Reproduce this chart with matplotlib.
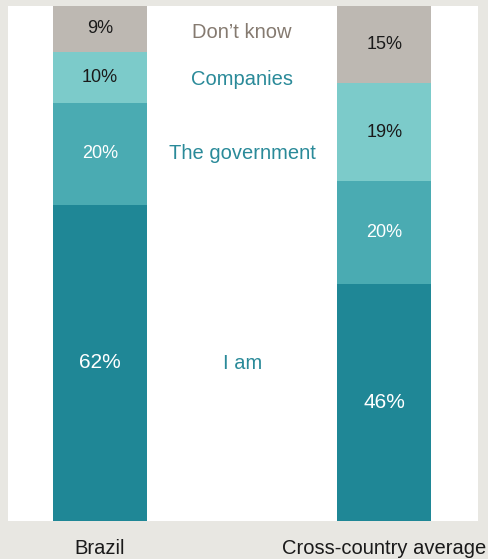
import matplotlib.pyplot as plt
import numpy as np

# data
groups = ["Brazil", "Cross-country average"]
categories = ["I am", "The government", "Companies", "Don\u2019t know"]
brazil = [62, 20, 10, 9]
average = [46, 20, 19, 15]

colors = ["#1f8796", "#4aabb2", "#7ccbca", "#bdb8b2"]
text_colors = ["white", "white", "#1a1a1a", "#1a1a1a"]
label_colors = ["#2a8a99", "#2a8a99", "#2a8a99", "#857a70"]
value_sizes = [15, 13, 13, 13]

plt.rcParams['font.family'] = ['Liberation Sans', 'DejaVu Sans']

fig = plt.figure(figsize=(4.88, 5.59), dpi=100, facecolor="#e8e7e2")
ax = fig.add_axes([8/488, 38/559, 470/488, 515/559])
ax.set_facecolor("white")

x = np.arange(len(groups))
data = np.array([brazil, average], dtype=float)
# each bar fills the full height
norm = data / data.sum(axis=1, keepdims=True) * 100
bottoms = np.zeros(len(groups))
for i in range(len(categories)):
    ax.bar(x, norm[:, i], bottom=bottoms, width=0.33, color=colors[i], linewidth=0)
    for j in range(len(groups)):
        ax.text(x[j], bottoms[j] + norm[j, i] / 2, f"{int(data[j, i])}%",
                ha="center", va="center", color=text_colors[i], fontsize=value_sizes[i])
    bottoms += norm[:, i]

# category labels in the middle
label_y = [30.5, 71.3, 85.8, 94.8]
for i, cat in enumerate(categories):
    ax.text(0.5, label_y[i], cat, ha="center", va="center", color=label_colors[i], fontsize=14.5)

ax.set_xlim(-0.323, 1.329)
ax.set_ylim(0, 100)
ax.set_xticks(x)
ax.set_xticklabels(groups, fontsize=14.5, color="#1a1a1a")
ax.tick_params(axis="x", length=0, pad=13)
ax.set_yticks([])
for s in ax.spines.values():
    s.set_visible(False)

fig.savefig("out.png", dpi=100, facecolor=fig.get_facecolor())
